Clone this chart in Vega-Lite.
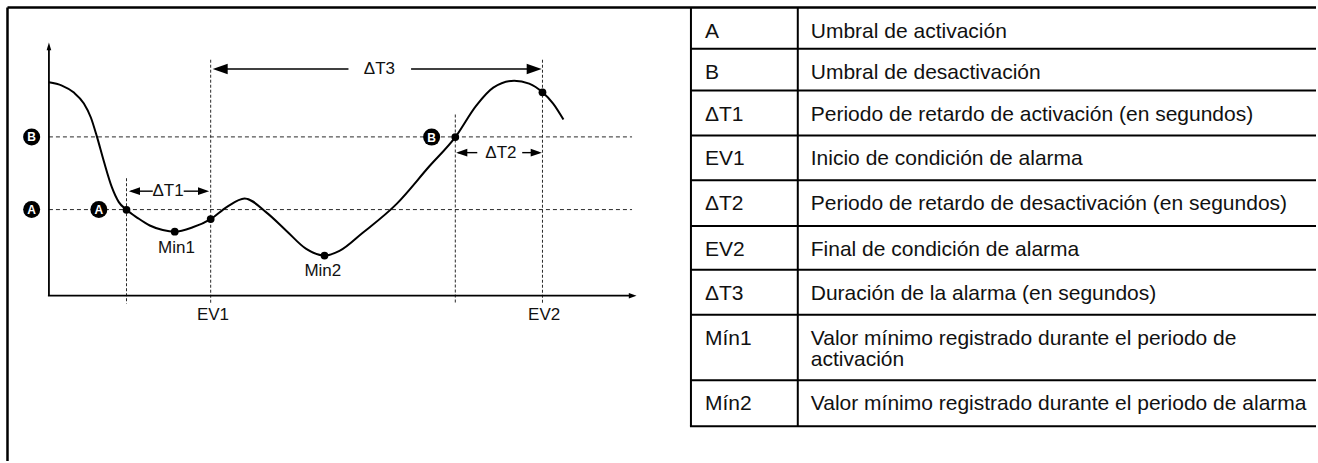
{
  "$schema": "https://vega.github.io/schema/vega-lite/v6.json",
  "width": 1318,
  "height": 463,
  "autosize": {"type": "fit", "contains": "padding"},
  "padding": 0,
  "background": "white",
  "config": {"view": {"stroke": null}, "text": {"font": "Liberation Sans"}},
  "datasets": {
    "lines": [
      {"x": 7.5, "y": 7.5, "x2": 1318, "y2": 7.5, "kind": "frame"},
      {"x": 7.5, "y": 7.5, "x2": 7.5, "y2": 463, "kind": "frame"},
      {"x": 692, "y": 7.5, "x2": 692, "y2": 428, "kind": "table"},
      {"x": 799, "y": 7.5, "x2": 799, "y2": 428, "kind": "table"},
      {"x": 692, "y": 49, "x2": 1318, "y2": 49, "kind": "table"},
      {"x": 692, "y": 91, "x2": 1318, "y2": 91, "kind": "table"},
      {"x": 692, "y": 136, "x2": 1318, "y2": 136, "kind": "table"},
      {"x": 692, "y": 181, "x2": 1318, "y2": 181, "kind": "table"},
      {"x": 692, "y": 227, "x2": 1318, "y2": 227, "kind": "table"},
      {"x": 692, "y": 271, "x2": 1318, "y2": 271, "kind": "table"},
      {"x": 692, "y": 316, "x2": 1318, "y2": 316, "kind": "table"},
      {"x": 692, "y": 382, "x2": 1318, "y2": 382, "kind": "table"},
      {"x": 691, "y": 428, "x2": 1318, "y2": 428, "kind": "table"},
      {"x": 49, "y": 297, "x2": 49, "y2": 47, "kind": "axis"},
      {"x": 48, "y": 297, "x2": 633, "y2": 297, "kind": "axis"},
      {"x": 49, "y": 137.5, "x2": 633, "y2": 137.5, "kind": "thresh"},
      {"x": 49, "y": 210.5, "x2": 633, "y2": 210.5, "kind": "thresh"},
      {"x": 126.7, "y": 179, "x2": 126.7, "y2": 305, "kind": "marker"},
      {"x": 211, "y": 60, "x2": 211, "y2": 305, "kind": "marker"},
      {"x": 456, "y": 115, "x2": 456, "y2": 305, "kind": "marker"},
      {"x": 543.3, "y": 60, "x2": 543.3, "y2": 305, "kind": "marker"},
      {"x": 131, "y": 192, "x2": 153, "y2": 192, "kind": "shaft"},
      {"x": 184, "y": 192, "x2": 206, "y2": 192, "kind": "shaft"},
      {"x": 216, "y": 69.3, "x2": 349, "y2": 69.3, "kind": "shaft"},
      {"x": 411.7, "y": 69.3, "x2": 538, "y2": 69.3, "kind": "shaft"},
      {"x": 459, "y": 153.3, "x2": 478, "y2": 153.3, "kind": "shaft"},
      {"x": 523, "y": 153.3, "x2": 540, "y2": 153.3, "kind": "shaft"}
    ],
    "curve": [
      {"x": 49, "y": 82.7},
      {"x": 62, "y": 86},
      {"x": 74, "y": 93},
      {"x": 84, "y": 104},
      {"x": 91, "y": 118},
      {"x": 97, "y": 137},
      {"x": 104, "y": 162},
      {"x": 112, "y": 188},
      {"x": 119, "y": 203},
      {"x": 126.7, "y": 210.7},
      {"x": 138, "y": 219},
      {"x": 150, "y": 226.5},
      {"x": 163, "y": 231},
      {"x": 175, "y": 232.7},
      {"x": 193, "y": 228.3},
      {"x": 211, "y": 220},
      {"x": 227, "y": 208},
      {"x": 245, "y": 199.3},
      {"x": 266.7, "y": 213.3},
      {"x": 286.7, "y": 231.7},
      {"x": 306.7, "y": 250},
      {"x": 325, "y": 256.7},
      {"x": 340, "y": 252},
      {"x": 363, "y": 234},
      {"x": 397, "y": 205},
      {"x": 430, "y": 167},
      {"x": 456, "y": 137.7},
      {"x": 477, "y": 106},
      {"x": 494, "y": 88},
      {"x": 515, "y": 81},
      {"x": 530, "y": 84},
      {"x": 543.3, "y": 92.7},
      {"x": 554, "y": 104},
      {"x": 564.3, "y": 120}
    ],
    "dots": [
      {"x": 126.7, "y": 210.7},
      {"x": 175, "y": 232.7},
      {"x": 211, "y": 220},
      {"x": 325, "y": 256.7},
      {"x": 456, "y": 137.7},
      {"x": 543.3, "y": 92.7}
    ],
    "heads": [
      {"x": 129, "y": 192, "dir": "left", "kind": "mid"},
      {"x": 209.5, "y": 192, "dir": "right", "kind": "mid"},
      {"x": 213, "y": 69.3, "dir": "left", "kind": "big"},
      {"x": 542.5, "y": 69.3, "dir": "right", "kind": "big"},
      {"x": 456.8, "y": 153.3, "dir": "left", "kind": "mid"},
      {"x": 542.7, "y": 153.3, "dir": "right", "kind": "mid"},
      {"x": 49, "y": 42.7, "dir": "up", "kind": "axis"},
      {"x": 637.5, "y": 297, "dir": "right", "kind": "axis"}
    ],
    "badges": [
      {"x": 31.7, "y": 137.5, "label": "B"},
      {"x": 31.7, "y": 210.5, "label": "A"},
      {"x": 99, "y": 210.5, "label": "A"},
      {"x": 432.3, "y": 137.7, "label": "B"}
    ],
    "labels": [
      {"x": 168.3, "y": 192, "label": "ΔT1"},
      {"x": 380, "y": 69.3, "label": "ΔT3"},
      {"x": 501.7, "y": 153.3, "label": "ΔT2"},
      {"x": 176.7, "y": 249, "label": "Min1"},
      {"x": 323.3, "y": 271.7, "label": "Min2"},
      {"x": 213.3, "y": 316.7, "label": "EV1"},
      {"x": 545, "y": 316.7, "label": "EV2"}
    ],
    "cols": [
      {"col": "key", "x": 706},
      {"col": "desc", "x": 812}
    ],
    "rows": [
      {"key": "A", "desc": "Umbral de activación", "y": 8},
      {"key": "B", "desc": "Umbral de desactivación", "y": 49},
      {"key": "ΔT1", "desc": "Periodo de retardo de activación (en segundos)", "y": 91},
      {"key": "EV1", "desc": "Inicio de condición de alarma", "y": 136},
      {"key": "ΔT2", "desc": "Periodo de retardo de desactivación (en segundos)", "y": 181},
      {"key": "EV2", "desc": "Final de condición de alarma", "y": 227},
      {"key": "ΔT3", "desc": "Duración de la alarma (en segundos)", "y": 271},
      {"key": "Mín1", "desc": "Valor mínimo registrado durante el periodo de\nactivación", "y": 316},
      {"key": "Mín2", "desc": "Valor mínimo registrado durante el periodo de alarma", "y": 382}
    ]
  },
  "encoding": {
    "x": {"field": "x", "type": "quantitative", "scale": {"domain": [0, 1318], "nice": false, "zero": false}, "axis": null},
    "y": {"field": "y", "type": "quantitative", "scale": {"domain": [0, 463], "nice": false, "zero": false, "reverse": true}, "axis": null}
  },
  "layer": [
    {
      "data": {"name": "lines"},
      "transform": [{"filter": "datum.kind === 'thresh'"}],
      "mark": {"type": "rule", "color": "#2a2a2a", "strokeWidth": 1, "strokeDash": [4, 3]},
      "encoding": {"x2": {"field": "x2"}, "y2": {"field": "y2"}}
    },
    {
      "data": {"name": "lines"},
      "transform": [{"filter": "datum.kind === 'marker'"}],
      "mark": {"type": "rule", "color": "#2a2a2a", "strokeWidth": 1, "strokeDash": [3, 2]},
      "encoding": {"x2": {"field": "x2"}, "y2": {"field": "y2"}}
    },
    {
      "data": {"name": "lines"},
      "transform": [{"filter": "datum.kind === 'frame'"}],
      "mark": {"type": "rule", "color": "#000", "strokeWidth": 2.5},
      "encoding": {"x2": {"field": "x2"}, "y2": {"field": "y2"}}
    },
    {
      "data": {"name": "lines"},
      "transform": [{"filter": "datum.kind === 'table'"}],
      "mark": {"type": "rule", "color": "#000", "strokeWidth": 2},
      "encoding": {"x2": {"field": "x2"}, "y2": {"field": "y2"}}
    },
    {
      "data": {"name": "lines"},
      "transform": [{"filter": "datum.kind === 'axis'"}],
      "mark": {"type": "rule", "color": "#000", "strokeWidth": 1.8},
      "encoding": {"x2": {"field": "x2"}, "y2": {"field": "y2"}}
    },
    {
      "data": {"name": "lines"},
      "transform": [{"filter": "datum.kind === 'shaft'"}],
      "mark": {"type": "rule", "color": "#000", "strokeWidth": 1.4},
      "encoding": {"x2": {"field": "x2"}, "y2": {"field": "y2"}}
    },
    {
      "data": {"name": "curve"},
      "mark": {"type": "line", "interpolate": "monotone", "color": "#000", "strokeWidth": 2}
    },
    {
      "data": {"name": "dots"},
      "mark": {"type": "point", "shape": "circle", "filled": true, "color": "#000", "size": 60, "opacity": 1}
    },
    {
      "data": {"name": "heads"},
      "transform": [{"filter": "datum.kind === 'big'"}],
      "mark": {"type": "point", "filled": true, "color": "#000", "size": 225, "opacity": 1},
      "encoding": {
        "shape": {"field": "dir", "type": "nominal", "legend": null, "scale": {"domain": ["left", "right", "up"], "range": ["M0,0L2,-0.7L2,0.7Z", "M0,0L-2,-0.7L-2,0.7Z", "M0,0L-0.6,2L0.6,2Z"]}}
      }
    },
    {
      "data": {"name": "heads"},
      "transform": [{"filter": "datum.kind === 'mid'"}],
      "mark": {"type": "point", "filled": true, "color": "#000", "size": 125, "opacity": 1},
      "encoding": {
        "shape": {"field": "dir", "type": "nominal", "legend": null, "scale": {"domain": ["left", "right", "up"], "range": ["M0,0L2,-0.7L2,0.7Z", "M0,0L-2,-0.7L-2,0.7Z", "M0,0L-0.6,2L0.6,2Z"]}}
      }
    },
    {
      "data": {"name": "heads"},
      "transform": [{"filter": "datum.kind === 'axis'"}],
      "mark": {"type": "point", "filled": true, "color": "#000", "size": 60, "opacity": 1},
      "encoding": {
        "shape": {"field": "dir", "type": "nominal", "legend": null, "scale": {"domain": ["left", "right", "up"], "range": ["M0,0L2,-0.7L2,0.7Z", "M0,0L-2,-0.7L-2,0.7Z", "M0,0L-0.6,2L0.6,2Z"]}}
      }
    },
    {
      "data": {"name": "badges"},
      "mark": {"type": "point", "shape": "circle", "filled": true, "color": "#000", "size": 290, "opacity": 1}
    },
    {
      "data": {"name": "badges"},
      "mark": {"type": "text", "color": "#fff", "fontSize": 12, "fontWeight": "bold", "align": "center", "baseline": "middle", "dy": 0.5},
      "encoding": {"text": {"field": "label"}}
    },
    {
      "data": {"name": "labels"},
      "mark": {"type": "text", "color": "#111", "fontSize": 17, "align": "center", "baseline": "middle"},
      "encoding": {"text": {"field": "label"}}
    },
    {
      "data": {"name": "rows"},
      "transform": [
        {"fold": ["key", "desc"], "as": ["col", "txt"]},
        {"lookup": "col", "from": {"data": {"name": "cols"}, "key": "col", "fields": ["x"]}}
      ],
      "mark": {"type": "text", "color": "#111", "fontSize": 21, "align": "left", "baseline": "alphabetic", "dy": 30, "lineBreak": "\n", "lineHeight": 21},
      "encoding": {
        "text": {"field": "txt"}
      }
    }
  ]
}
